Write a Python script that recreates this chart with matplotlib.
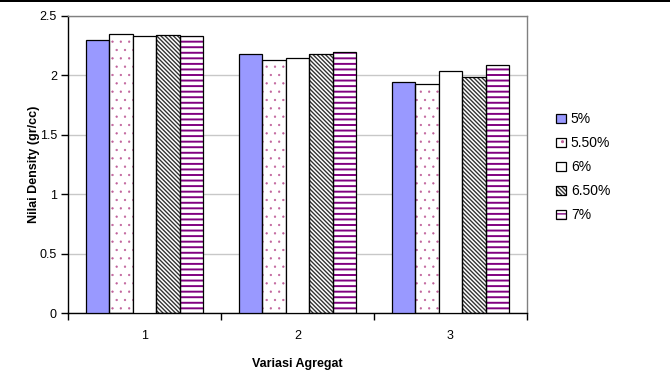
import matplotlib.pyplot as plt
from matplotlib.patches import Rectangle
from matplotlib.legend_handler import HandlerTuple
import numpy as np

plt.rcParams['font.family'] = ['Liberation Sans', 'DejaVu Sans']

# data
groups = ['1', '2', '3']
series = ['5%', '5.50%', '6%', '6.50%', '7%']
d_5 = [2.30, 2.18, 1.94]
d_55 = [2.35, 2.13, 1.93]
d_6 = [2.33, 2.15, 2.04]
d_65 = [2.34, 2.18, 1.99]
d_7 = [2.33, 2.20, 2.09]
values = [d_5, d_55, d_6, d_65, d_7]

# fill, hatch, hatch colour, hatch line width for each series
styles = [
    ('#9999ff', None, None, 1.0),
    ('white', '..', '#c0609a', 0.4),
    ('white', None, None, 1.0),
    ('white', '\\' * 8, '#333333', 1.0),
    ('white', '---', '#800080', 1.4),
]

fig = plt.figure(figsize=(6.7, 3.7), dpi=100)
ax = fig.add_axes([0.1015, 0.154, 0.685, 0.803])

# dark band along the top edge
fig.patches.append(Rectangle((0, 0.994), 1, 0.006, transform=fig.transFigure,
                             facecolor='black', edgecolor='none'))

x = np.arange(len(groups))
w = 0.154
handles = []
for i, (vals, (fc, hatch, hc, hlw)) in enumerate(zip(values, styles)):
    pos = x + (i - 2) * w
    with plt.rc_context({'hatch.linewidth': hlw}):
        if hatch:
            ax.bar(pos, vals, w, color=fc, hatch=hatch, edgecolor=hc, linewidth=0, zorder=2)
            ax.bar(pos, vals, w, fill=False, edgecolor='black', linewidth=0.9, zorder=3)
            h = (Rectangle((0, 0), 1, 1, facecolor=fc, hatch=hatch, edgecolor=hc, linewidth=0),
                 Rectangle((0, 0), 1, 1, fill=False, edgecolor='black', linewidth=0.9))
        else:
            ax.bar(pos, vals, w, color=fc, edgecolor='black', linewidth=0.9, zorder=3)
            h = Rectangle((0, 0), 1, 1, facecolor=fc, edgecolor='black', linewidth=0.9)
    handles.append(h)

ax.set_xlim(-0.5, 2.5)
ax.set_ylim(0, 2.5)
ax.set_yticks(np.arange(0, 2.51, 0.5))
ax.set_yticklabels(['0', '0.5', '1', '1.5', '2', '2.5'])
ax.set_xticks([-0.5, 0.5, 1.5, 2.5])
ax.set_xticklabels([])
ax.set_xticks(x, minor=True)
ax.set_xticklabels(groups, minor=True)
ax.tick_params(axis='x', which='minor', length=0, pad=12, labelsize=9)
ax.tick_params(axis='x', which='major', length=5, width=1, direction='out')
ax.tick_params(axis='y', length=5, width=1, direction='out', labelsize=9, pad=3)

ax.yaxis.grid(True, color='#c8c8c8', linewidth=1, zorder=0)
ax.set_axisbelow(True)
for s in ['left', 'bottom']:
    ax.spines[s].set_color('black')
    ax.spines[s].set_linewidth(1)
for s in ['top', 'right']:
    ax.spines[s].set_color('#808080')
    ax.spines[s].set_linewidth(1)

ax.set_xlabel('Variasi Agregat', fontsize=9, fontweight='bold', labelpad=12)
ax.set_ylabel('Nilai Density (gr/cc)', fontsize=9, fontweight='bold')
ax.yaxis.set_label_coords(-0.06, 0.5)

fig.legend(handles, series, loc='upper left', bbox_to_anchor=(0.822, 0.711),
           frameon=False, fontsize=10, handlelength=0.7, handleheight=0.7,
           handletextpad=0.35, labelspacing=0.72, borderaxespad=0,
           handler_map={tuple: HandlerTuple(ndivide=1, pad=0)})

fig.savefig('out.png', dpi=100)
